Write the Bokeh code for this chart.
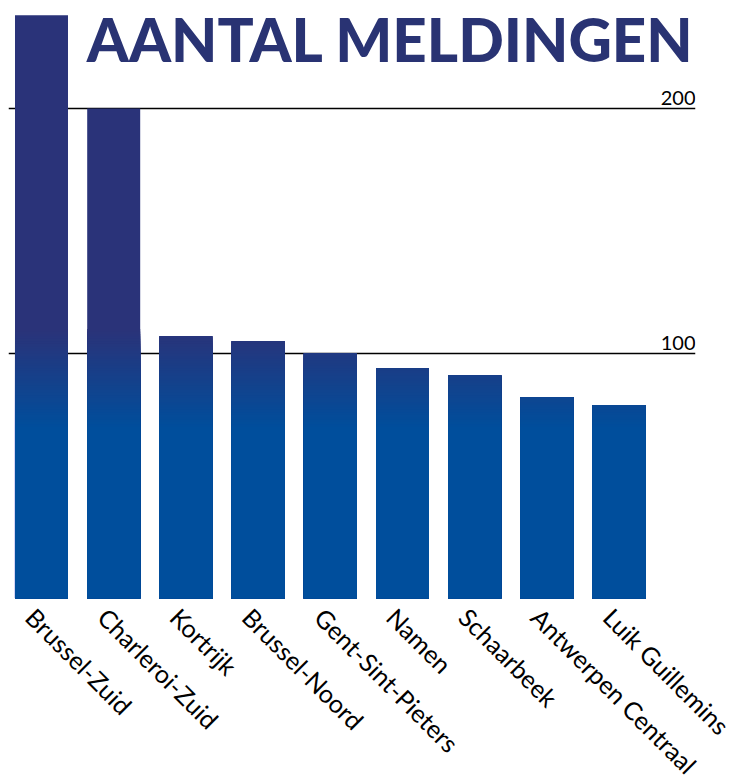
import math
from bokeh.plotting import figure
from bokeh.models import ColumnDataSource, Range1d, FixedTicker, Label
from bokeh.core.properties import value
from bokeh.embed import file_html
from bokeh.resources import INLINE

# ---- data ----
stations = ["Brussel-Zuid", "Charleroi-Zuid", "Kortrijk", "Brussel-Noord",
            "Gent-Sint-Pieters", "Namen", "Schaarbeek", "Antwerpen Centraal",
            "Luik Guillemins"]
meldingen = [238, 200, 107, 105, 100, 94, 91, 82, 79]
y_ticks = [0, 100, 200]
y_tick_labels = ["", "100", "200"]
title_text = "AANTAL MELDINGEN"

# gradient (vertical, in value space) between these values
grad_hi, grad_lo = 110, 70
col_top = (0x2a, 0x33, 0x79)
col_bot = (0x00, 0x4e, 0x9c)

def mix(f):
    return "#%02x%02x%02x" % tuple(int(round(b + f * (t - b))) for t, b in zip(col_top, col_bot))

xs, tops, cols = [], [], []
for i, v in enumerate(meldingen):
    xs.append(i); tops.append(v); cols.append(mix(1.0))
for t in range(grad_hi, grad_lo - 1, -1):
    f = (t - grad_lo) / (grad_hi - grad_lo)
    for i, v in enumerate(meldingen):
        xs.append(i); tops.append(min(v, t)); cols.append(mix(f))

src = ColumnDataSource(dict(x=xs, top=tops, color=cols))

p = figure(output_backend="svg", toolbar_location=None,
           frame_width=687, frame_height=590,
           min_border_left=8, min_border_top=8, min_border_right=45,
           min_border_bottom=175,
           x_range=Range1d(-0.457, 9.058), y_range=Range1d(0, 240.8),
           y_axis_location=None)
p.outline_line_color = None
p.background_fill_color = "white"
p.xgrid.grid_line_color = None
p.ygrid.ticker = FixedTicker(ticks=y_ticks)
p.ygrid.grid_line_color = "black"
p.ygrid.grid_line_width = 1.5

p.vbar(x="x", top="top", bottom=0, width=0.734, source=src,
       fill_color="color", line_color=None)

# value labels for the grid lines
p.text(x=[9.058] * len(y_ticks), y=y_ticks, text=y_tick_labels,
       text_align="right", text_baseline="bottom", y_offset=-3,
       text_font=value("Lato"), text_font_size="20px", text_color="black")

label_shift = 0.15
ax = p.xaxis[0]
ax.ticker = FixedTicker(ticks=[i - label_shift for i in range(len(stations))])
ax.major_label_overrides = {i - label_shift: s for i, s in enumerate(stations)}
ax.major_label_orientation = -math.pi / 4
ax.major_label_text_font = "Lato"
ax.major_label_text_font_size = "25px"
ax.major_label_text_color = "black"
ax.major_tick_line_color = None
ax.minor_tick_line_color = None
ax.axis_line_color = None
ax.major_label_standoff = 8

p.add_layout(Label(x=686, y=590 + 6, x_units="screen", y_units="screen",
                   text=title_text, text_align="right", text_baseline="top",
                   text_font="Lato Black", text_font_style="bold",
                   text_font_size="60px", text_color="#293373"))

open("out.html", "w").write(file_html(p, INLINE))
